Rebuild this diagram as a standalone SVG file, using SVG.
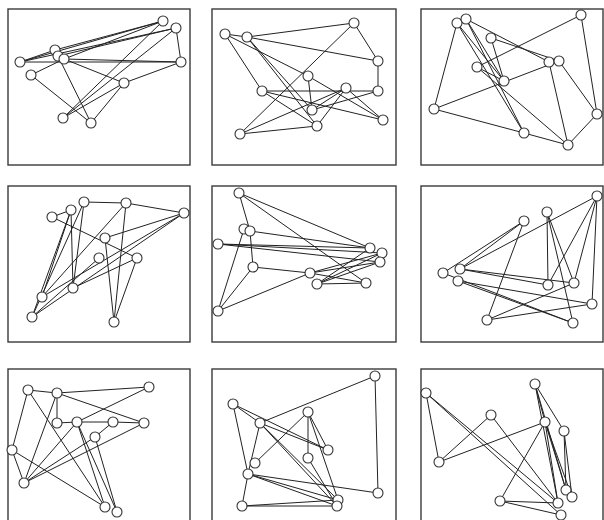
<svg xmlns="http://www.w3.org/2000/svg" width="604" height="520" viewBox="0 0 604 520">
<style>
.fr{fill:none;stroke:#3a3a3a;stroke-width:1.4}
.e line{stroke:#222;stroke-width:1}
.n circle{fill:#fff;stroke:#333;stroke-width:1.1}
</style>
<rect width="604" height="520" fill="#fff"/>
<g id="frames">
<rect class="fr" x="8" y="9" width="182" height="156"/>
<rect class="fr" x="212" y="9" width="184" height="156"/>
<rect class="fr" x="421" y="9" width="182" height="156"/>
<rect class="fr" x="8" y="186" width="182" height="156"/>
<rect class="fr" x="212" y="186" width="184" height="156"/>
<rect class="fr" x="421" y="186" width="182" height="156"/>
<rect class="fr" x="8" y="369" width="182" height="156"/>
<rect class="fr" x="212" y="369" width="184" height="156"/>
<rect class="fr" x="421" y="369" width="182" height="156"/>
</g>
<g id="connectors" class="e">
<!-- panel 1 -->
<line x1="20" y1="62" x2="163" y2="21"/>
<line x1="20" y1="62" x2="176" y2="28"/>
<line x1="55" y1="50" x2="163" y2="21"/>
<line x1="58" y1="56" x2="176" y2="28"/>
<line x1="64" y1="59" x2="163" y2="21"/>
<line x1="20" y1="62" x2="181" y2="62"/>
<line x1="64" y1="59" x2="181" y2="62"/>
<line x1="176" y1="28" x2="181" y2="62"/>
<line x1="31" y1="75" x2="64" y2="59"/>
<line x1="31" y1="75" x2="91" y2="123"/>
<line x1="58" y1="56" x2="91" y2="123"/>
<line x1="124" y1="83" x2="91" y2="123"/>
<line x1="63" y1="118" x2="163" y2="21"/>
<line x1="63" y1="118" x2="176" y2="28"/>
<line x1="63" y1="118" x2="124" y2="83"/>
<line x1="181" y1="62" x2="124" y2="83"/>
<line x1="64" y1="59" x2="124" y2="83"/>
<line x1="20" y1="62" x2="55" y2="50"/>
<!-- panel 2 -->
<line x1="225" y1="34" x2="247" y2="37"/>
<line x1="247" y1="37" x2="354" y2="23"/>
<line x1="247" y1="37" x2="378" y2="61"/>
<line x1="354" y1="23" x2="378" y2="61"/>
<line x1="378" y1="61" x2="378" y2="91"/>
<line x1="354" y1="23" x2="240" y2="134"/>
<line x1="225" y1="34" x2="262" y2="91"/>
<line x1="225" y1="34" x2="308" y2="76"/>
<line x1="247" y1="37" x2="317" y2="126"/>
<line x1="247" y1="37" x2="312" y2="110"/>
<line x1="262" y1="91" x2="378" y2="91"/>
<line x1="262" y1="91" x2="383" y2="120"/>
<line x1="262" y1="91" x2="317" y2="126"/>
<line x1="308" y1="76" x2="312" y2="110"/>
<line x1="308" y1="76" x2="383" y2="120"/>
<line x1="346" y1="88" x2="312" y2="110"/>
<line x1="346" y1="88" x2="317" y2="126"/>
<line x1="346" y1="88" x2="383" y2="120"/>
<line x1="240" y1="134" x2="317" y2="126"/>
<line x1="240" y1="134" x2="346" y2="88"/>
<line x1="378" y1="91" x2="312" y2="110"/>
<!-- panel 3 -->
<line x1="457" y1="23" x2="466" y2="19"/>
<line x1="457" y1="23" x2="434" y2="109"/>
<line x1="466" y1="19" x2="549" y2="62"/>
<line x1="491" y1="38" x2="559" y2="61"/>
<line x1="581" y1="15" x2="477" y2="67"/>
<line x1="581" y1="15" x2="597" y2="114"/>
<line x1="434" y1="109" x2="559" y2="61"/>
<line x1="434" y1="109" x2="524" y2="133"/>
<line x1="524" y1="133" x2="568" y2="145"/>
<line x1="568" y1="145" x2="597" y2="114"/>
<line x1="549" y1="62" x2="568" y2="145"/>
<line x1="559" y1="61" x2="597" y2="114"/>
<line x1="457" y1="23" x2="524" y2="133"/>
<line x1="466" y1="19" x2="524" y2="133"/>
<line x1="466" y1="19" x2="504" y2="81"/>
<line x1="491" y1="38" x2="504" y2="81"/>
<line x1="477" y1="67" x2="568" y2="145"/>
<line x1="457" y1="23" x2="504" y2="81"/>
<line x1="477" y1="67" x2="504" y2="81"/>
<!-- panel 4 -->
<line x1="52" y1="217" x2="71" y2="210"/>
<line x1="52" y1="217" x2="137" y2="258"/>
<line x1="84" y1="202" x2="126" y2="203"/>
<line x1="126" y1="203" x2="184" y2="213"/>
<line x1="184" y1="213" x2="105" y2="238"/>
<line x1="184" y1="213" x2="42" y2="297"/>
<line x1="126" y1="203" x2="42" y2="297"/>
<line x1="126" y1="203" x2="114" y2="322"/>
<line x1="137" y1="258" x2="114" y2="322"/>
<line x1="137" y1="258" x2="73" y2="288"/>
<line x1="71" y1="210" x2="42" y2="297"/>
<line x1="71" y1="210" x2="32" y2="317"/>
<line x1="84" y1="202" x2="73" y2="288"/>
<line x1="84" y1="202" x2="32" y2="317"/>
<line x1="105" y1="238" x2="114" y2="322"/>
<line x1="99" y1="258" x2="32" y2="317"/>
<line x1="71" y1="210" x2="73" y2="288"/>
<line x1="184" y1="213" x2="32" y2="317"/>
<!-- panel 5 -->
<line x1="239" y1="193" x2="370" y2="248"/>
<line x1="239" y1="193" x2="366" y2="283"/>
<line x1="239" y1="193" x2="250" y2="231"/>
<line x1="244" y1="229" x2="218" y2="311"/>
<line x1="250" y1="231" x2="253" y2="267"/>
<line x1="250" y1="231" x2="370" y2="248"/>
<line x1="218" y1="244" x2="370" y2="248"/>
<line x1="218" y1="244" x2="382" y2="253"/>
<line x1="218" y1="244" x2="380" y2="262"/>
<line x1="253" y1="267" x2="218" y2="311"/>
<line x1="253" y1="267" x2="310" y2="273"/>
<line x1="218" y1="311" x2="310" y2="273"/>
<line x1="310" y1="273" x2="382" y2="253"/>
<line x1="310" y1="273" x2="380" y2="262"/>
<line x1="317" y1="284" x2="382" y2="253"/>
<line x1="317" y1="284" x2="370" y2="248"/>
<line x1="310" y1="273" x2="366" y2="283"/>
<line x1="317" y1="284" x2="366" y2="283"/>
<line x1="317" y1="284" x2="380" y2="262"/>
<!-- panel 6 -->
<line x1="597" y1="196" x2="460" y2="269"/>
<line x1="597" y1="196" x2="548" y2="285"/>
<line x1="597" y1="196" x2="574" y2="283"/>
<line x1="597" y1="196" x2="592" y2="304"/>
<line x1="547" y1="212" x2="548" y2="285"/>
<line x1="547" y1="212" x2="574" y2="283"/>
<line x1="547" y1="212" x2="573" y2="323"/>
<line x1="524" y1="221" x2="443" y2="273"/>
<line x1="524" y1="221" x2="460" y2="269"/>
<line x1="524" y1="221" x2="487" y2="320"/>
<line x1="460" y1="269" x2="548" y2="285"/>
<line x1="460" y1="269" x2="574" y2="283"/>
<line x1="458" y1="281" x2="573" y2="323"/>
<line x1="458" y1="281" x2="592" y2="304"/>
<line x1="487" y1="320" x2="574" y2="283"/>
<line x1="487" y1="320" x2="592" y2="304"/>
<line x1="443" y1="273" x2="573" y2="323"/>
<!-- panel 7 -->
<line x1="28" y1="390" x2="57" y2="393"/>
<line x1="57" y1="393" x2="149" y2="387"/>
<line x1="28" y1="390" x2="12" y2="450"/>
<line x1="28" y1="390" x2="105" y2="507"/>
<line x1="57" y1="393" x2="144" y2="423"/>
<line x1="57" y1="393" x2="57" y2="423"/>
<line x1="57" y1="393" x2="24" y2="483"/>
<line x1="149" y1="387" x2="77" y2="422"/>
<line x1="57" y1="423" x2="77" y2="422"/>
<line x1="77" y1="422" x2="113" y2="422"/>
<line x1="113" y1="422" x2="144" y2="423"/>
<line x1="77" y1="422" x2="105" y2="507"/>
<line x1="77" y1="422" x2="117" y2="512"/>
<line x1="95" y1="437" x2="117" y2="512"/>
<line x1="95" y1="437" x2="113" y2="422"/>
<line x1="12" y1="450" x2="24" y2="483"/>
<line x1="12" y1="450" x2="105" y2="507"/>
<line x1="24" y1="483" x2="77" y2="422"/>
<line x1="24" y1="483" x2="144" y2="423"/>
<line x1="24" y1="483" x2="95" y2="437"/>
<!-- panel 8 -->
<line x1="375" y1="376" x2="260" y2="423"/>
<line x1="375" y1="376" x2="378" y2="493"/>
<line x1="233" y1="404" x2="260" y2="423"/>
<line x1="233" y1="404" x2="328" y2="450"/>
<line x1="233" y1="404" x2="248" y2="474"/>
<line x1="308" y1="412" x2="308" y2="458"/>
<line x1="308" y1="412" x2="328" y2="450"/>
<line x1="308" y1="412" x2="255" y2="463"/>
<line x1="308" y1="412" x2="338" y2="500"/>
<line x1="260" y1="423" x2="328" y2="450"/>
<line x1="260" y1="423" x2="338" y2="500"/>
<line x1="260" y1="423" x2="337" y2="506"/>
<line x1="260" y1="423" x2="248" y2="474"/>
<line x1="248" y1="474" x2="378" y2="493"/>
<line x1="248" y1="474" x2="338" y2="500"/>
<line x1="248" y1="474" x2="337" y2="506"/>
<line x1="242" y1="506" x2="338" y2="500"/>
<line x1="242" y1="506" x2="337" y2="506"/>
<line x1="242" y1="506" x2="248" y2="474"/>
<line x1="308" y1="458" x2="337" y2="506"/>
<!-- panel 9 -->
<line x1="426" y1="393" x2="439" y2="462"/>
<line x1="426" y1="393" x2="558" y2="503"/>
<line x1="426" y1="393" x2="561" y2="515"/>
<line x1="535" y1="384" x2="564" y2="431"/>
<line x1="535" y1="384" x2="545" y2="422"/>
<line x1="535" y1="384" x2="566" y2="490"/>
<line x1="535" y1="384" x2="558" y2="503"/>
<line x1="491" y1="415" x2="439" y2="462"/>
<line x1="491" y1="415" x2="558" y2="503"/>
<line x1="545" y1="422" x2="439" y2="462"/>
<line x1="545" y1="422" x2="500" y2="501"/>
<line x1="545" y1="422" x2="558" y2="503"/>
<line x1="545" y1="422" x2="566" y2="490"/>
<line x1="545" y1="422" x2="572" y2="497"/>
<line x1="564" y1="431" x2="566" y2="490"/>
<line x1="564" y1="431" x2="572" y2="497"/>
<line x1="500" y1="501" x2="558" y2="503"/>
<line x1="500" y1="501" x2="561" y2="515"/>
</g>
<g class="n">
<g id="p1-a"><circle cx="163" cy="21" r="5"/></g>
<g id="p1-b"><circle cx="176" cy="28" r="5"/></g>
<g id="p1-c"><circle cx="181" cy="62" r="5"/></g>
<g id="p1-d"><circle cx="20" cy="62" r="5"/></g>
<g id="p1-e"><circle cx="55" cy="50" r="5"/></g>
<g id="p1-f"><circle cx="58" cy="56" r="5"/></g>
<g id="p1-g"><circle cx="64" cy="59" r="5"/></g>
<g id="p1-h"><circle cx="31" cy="75" r="5"/></g>
<g id="p1-i"><circle cx="124" cy="83" r="5"/></g>
<g id="p1-j"><circle cx="63" cy="118" r="5"/></g>
<g id="p1-k"><circle cx="91" cy="123" r="5"/></g>

<g id="p2-a"><circle cx="225" cy="34" r="5"/></g>
<g id="p2-b"><circle cx="247" cy="37" r="5"/></g>
<g id="p2-c"><circle cx="354" cy="23" r="5"/></g>
<g id="p2-d"><circle cx="378" cy="61" r="5"/></g>
<g id="p2-e"><circle cx="308" cy="76" r="5"/></g>
<g id="p2-f"><circle cx="262" cy="91" r="5"/></g>
<g id="p2-g"><circle cx="346" cy="88" r="5"/></g>
<g id="p2-h"><circle cx="378" cy="91" r="5"/></g>
<g id="p2-i"><circle cx="312" cy="110" r="5"/></g>
<g id="p2-j"><circle cx="383" cy="120" r="5"/></g>
<g id="p2-k"><circle cx="317" cy="126" r="5"/></g>
<g id="p2-l"><circle cx="240" cy="134" r="5"/></g>

<g id="p3-a"><circle cx="457" cy="23" r="5"/></g>
<g id="p3-b"><circle cx="466" cy="19" r="5"/></g>
<g id="p3-c"><circle cx="581" cy="15" r="5"/></g>
<g id="p3-d"><circle cx="491" cy="38" r="5"/></g>
<g id="p3-e"><circle cx="549" cy="62" r="5"/></g>
<g id="p3-f"><circle cx="559" cy="61" r="5"/></g>
<g id="p3-g"><circle cx="477" cy="67" r="5"/></g>
<g id="p3-h"><circle cx="504" cy="81" r="5"/></g>
<g id="p3-i"><circle cx="434" cy="109" r="5"/></g>
<g id="p3-j"><circle cx="597" cy="114" r="5"/></g>
<g id="p3-k"><circle cx="524" cy="133" r="5"/></g>
<g id="p3-l"><circle cx="568" cy="145" r="5"/></g>

<g id="p4-a"><circle cx="52" cy="217" r="5"/></g>
<g id="p4-b"><circle cx="71" cy="210" r="5"/></g>
<g id="p4-c"><circle cx="84" cy="202" r="5"/></g>
<g id="p4-d"><circle cx="126" cy="203" r="5"/></g>
<g id="p4-e"><circle cx="184" cy="213" r="5"/></g>
<g id="p4-f"><circle cx="105" cy="238" r="5"/></g>
<g id="p4-g"><circle cx="99" cy="258" r="5"/></g>
<g id="p4-h"><circle cx="137" cy="258" r="5"/></g>
<g id="p4-i"><circle cx="73" cy="288" r="5"/></g>
<g id="p4-j"><circle cx="42" cy="297" r="5"/></g>
<g id="p4-k"><circle cx="32" cy="317" r="5"/></g>
<g id="p4-l"><circle cx="114" cy="322" r="5"/></g>

<g id="p5-a"><circle cx="239" cy="193" r="5"/></g>
<g id="p5-b"><circle cx="244" cy="229" r="5"/></g>
<g id="p5-c"><circle cx="250" cy="231" r="5"/></g>
<g id="p5-d"><circle cx="218" cy="244" r="5"/></g>
<g id="p5-e"><circle cx="370" cy="248" r="5"/></g>
<g id="p5-f"><circle cx="382" cy="253" r="5"/></g>
<g id="p5-g"><circle cx="380" cy="262" r="5"/></g>
<g id="p5-h"><circle cx="253" cy="267" r="5"/></g>
<g id="p5-i"><circle cx="310" cy="273" r="5"/></g>
<g id="p5-j"><circle cx="317" cy="284" r="5"/></g>
<g id="p5-k"><circle cx="366" cy="283" r="5"/></g>
<g id="p5-l"><circle cx="218" cy="311" r="5"/></g>

<g id="p6-a"><circle cx="597" cy="196" r="5"/></g>
<g id="p6-b"><circle cx="547" cy="212" r="5"/></g>
<g id="p6-c"><circle cx="524" cy="221" r="5"/></g>
<g id="p6-d"><circle cx="443" cy="273" r="5"/></g>
<g id="p6-e"><circle cx="460" cy="269" r="5"/></g>
<g id="p6-f"><circle cx="458" cy="281" r="5"/></g>
<g id="p6-g"><circle cx="548" cy="285" r="5"/></g>
<g id="p6-h"><circle cx="574" cy="283" r="5"/></g>
<g id="p6-i"><circle cx="592" cy="304" r="5"/></g>
<g id="p6-j"><circle cx="487" cy="320" r="5"/></g>
<g id="p6-k"><circle cx="573" cy="323" r="5"/></g>

<g id="p7-a"><circle cx="28" cy="390" r="5"/></g>
<g id="p7-b"><circle cx="57" cy="393" r="5"/></g>
<g id="p7-c"><circle cx="149" cy="387" r="5"/></g>
<g id="p7-d"><circle cx="57" cy="423" r="5"/></g>
<g id="p7-e"><circle cx="77" cy="422" r="5"/></g>
<g id="p7-f"><circle cx="113" cy="422" r="5"/></g>
<g id="p7-g"><circle cx="144" cy="423" r="5"/></g>
<g id="p7-h"><circle cx="95" cy="437" r="5"/></g>
<g id="p7-i"><circle cx="12" cy="450" r="5"/></g>
<g id="p7-j"><circle cx="24" cy="483" r="5"/></g>
<g id="p7-k"><circle cx="105" cy="507" r="5"/></g>
<g id="p7-l"><circle cx="117" cy="512" r="5"/></g>

<g id="p8-a"><circle cx="375" cy="376" r="5"/></g>
<g id="p8-b"><circle cx="233" cy="404" r="5"/></g>
<g id="p8-c"><circle cx="308" cy="412" r="5"/></g>
<g id="p8-d"><circle cx="260" cy="423" r="5"/></g>
<g id="p8-e"><circle cx="328" cy="450" r="5"/></g>
<g id="p8-f"><circle cx="308" cy="458" r="5"/></g>
<g id="p8-g"><circle cx="255" cy="463" r="5"/></g>
<g id="p8-h"><circle cx="248" cy="474" r="5"/></g>
<g id="p8-i"><circle cx="378" cy="493" r="5"/></g>
<g id="p8-j"><circle cx="338" cy="500" r="5"/></g>
<g id="p8-k"><circle cx="337" cy="506" r="5"/></g>
<g id="p8-l"><circle cx="242" cy="506" r="5"/></g>

<g id="p9-a"><circle cx="426" cy="393" r="5"/></g>
<g id="p9-b"><circle cx="535" cy="384" r="5"/></g>
<g id="p9-c"><circle cx="491" cy="415" r="5"/></g>
<g id="p9-d"><circle cx="545" cy="422" r="5"/></g>
<g id="p9-e"><circle cx="564" cy="431" r="5"/></g>
<g id="p9-f"><circle cx="439" cy="462" r="5"/></g>
<g id="p9-g"><circle cx="566" cy="490" r="5"/></g>
<g id="p9-h"><circle cx="572" cy="497" r="5"/></g>
<g id="p9-i"><circle cx="500" cy="501" r="5"/></g>
<g id="p9-j"><circle cx="558" cy="503" r="5"/></g>
<g id="p9-k"><circle cx="561" cy="515" r="5"/></g>
</g>
</svg>
